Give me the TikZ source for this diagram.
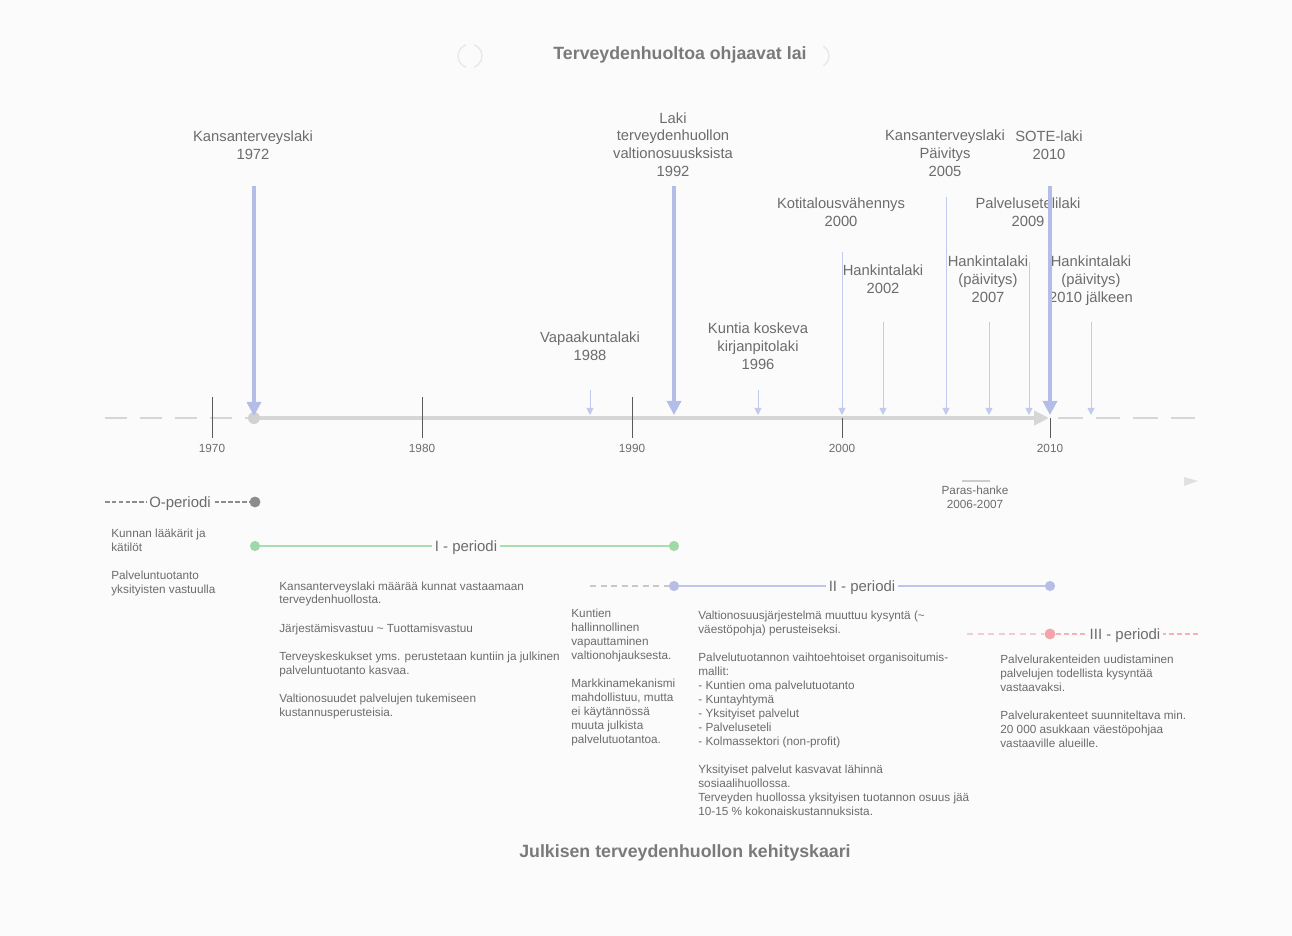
\documentclass[tikz,border=0pt]{standalone}
\usepackage{fontspec}
\setmainfont{Liberation Sans}
\usetikzlibrary{arrows.meta}
\definecolor{bg}{HTML}{FBFBFB}
\definecolor{txt}{HTML}{6C6C6C}
\definecolor{titlec}{HTML}{7A7A7A}
\definecolor{axisgray}{HTML}{D6D6D6}
\definecolor{tickc}{HTML}{5A5A5A}
\definecolor{blueA}{HTML}{B3BDE8}
\definecolor{blueT}{HTML}{C2CBEF}
\definecolor{greenl}{HTML}{A9DEB1}
\definecolor{greend}{HTML}{9FD9A8}
\definecolor{lavl}{HTML}{BFC5EA}
\definecolor{lavd}{HTML}{B6BDE6}
\definecolor{pinkd}{HTML}{F2A3AB}
\definecolor{pinkm}{HTML}{F3B3B9}
\definecolor{pinkl}{HTML}{F2CDD0}
\definecolor{ogray}{HTML}{8C8C8C}
\definecolor{dgray}{HTML}{C8C8C8}
\begin{document}
\begin{tikzpicture}[x=0.02cm,y=-0.02cm,
 lbl/.style={font=\fontsize{8.4}{10}\selectfont, text=txt, align=center, inner sep=0pt, anchor=base},
 sm/.style={font=\fontsize{6.7}{7.95}\selectfont, text=txt, align=left, inner sep=0pt, anchor=base west},
 smc/.style={font=\fontsize{6.7}{7.95}\selectfont, text=txt, align=center, inner sep=0pt, anchor=base},
 yr/.style={font=\fontsize{6.7}{8}\selectfont, text=txt, inner sep=0pt, anchor=base},
 per/.style={font=\fontsize{8.5}{10}\selectfont, text=txt, inner sep=1.5pt, fill=bg, anchor=base},
 hdr/.style={font=\bfseries\fontsize{10.1}{12}\selectfont, text=titlec, inner sep=0pt},
 bigarr/.style={draw=blueA, line width=1.8pt, -{Triangle[length=8pt,width=8pt]}},
 thinarr/.style={draw=blueT, line width=0.5pt, -{Triangle[length=4pt,width=4pt]}},
 tickline/.style={draw=tickc, line width=0.5pt},
 dotnode/.style={circle, inner sep=0pt, minimum size=6pt}
]
\path[use as bounding box, fill=bg] (0,0) rectangle (1292,936);

% titles
\node[hdr] (title) at (680,55) {Terveydenhuoltoa ohjaavat lai};
\node[hdr] (bottomtitle) at (685,853) {Julkisen terveydenhuollon kehityskaari};
\draw[black!9, line width=0.8pt] (470,56) ++(110:12) arc (110:250:12);
\draw[black!9, line width=0.8pt] (470,56) ++(-70:12) arc (-70:70:12);
\draw[black!9, line width=0.8pt] (818,56) ++(-60:11) arc (-60:60:11);

% axis
\coordinate (dl0) at (105,418);
\coordinate (dl1) at (248,418);
\coordinate (ax0) at (254,418);
\coordinate (ax1) at (1049,418);
\coordinate (dr0) at (1058,418);
\coordinate (dr1) at (1200,418);
\draw[axisgray, line width=1.7pt, dash pattern=on 12.5pt off 7.4pt] (dl0) -- (dl1);
\draw[axisgray, line width=1.7pt, dash pattern=on 14pt off 7.4pt] (dr0) -- (dr1);
\draw[axisgray, line width=2.8pt, -{Triangle[length=8.5pt,width=8pt]}] (ax0) -- (ax1);
\node[dotnode, fill=black!18, minimum size=6.8pt] (axdot) at (254,418) {};

% ticks
\foreach \yy/\xx in {1970/212,1980/422,1990/632}{
  \draw[tickline] (\xx,397) -- (\xx,438);
  \node[yr] (y\yy) at (\xx,452) {\yy};
}
\foreach \yy/\xx in {2000/842,2010/1050}{
  \draw[tickline] (\xx,418) -- (\xx,438);
  \node[yr] (y\yy) at (\xx,452) {\yy};
}

% law labels (anchor = baseline of last line)
\node[lbl] (l72) at (253,159) {Kansanterveyslaki\\1972};
\node[lbl] (l92) at (673,176) {Laki\\terveydenhuollon\\valtionosuusksista\\1992};
\node[lbl] (l88) at (590,360) {Vapaakuntalaki\\1988};
\node[lbl] (l96) at (758,369) {Kuntia koskeva\\kirjanpitolaki\\1996};
\node[lbl] (l00) at (841,226) {Kotitalousvähennys\\2000};
\node[lbl] (l02) at (883,293) {Hankintalaki\\2002};
\node[lbl] (l05) at (945,176) {Kansanterveyslaki\\Päivitys\\2005};
\node[lbl] (l10) at (1049,159) {SOTE-laki\\2010};
\node[lbl] (l09) at (1028,226) {Palvelusetelilaki\\2009};
\node[lbl] (l07) at (988,302) {Hankintalaki\\(päivitys)\\2007};
\node[lbl] (l12) at (1091,302) {Hankintalaki\\(päivitys)\\2010 jälkeen};

% arrows
\coordinate (t72) at (254,186); \coordinate (b72) at (254,416);
\coordinate (t92) at (674,186); \coordinate (b92) at (674,415);
\coordinate (t10) at (1050,186); \coordinate (b10) at (1050,415);
\coordinate (t88) at (590,390); \coordinate (b88) at (590,415);
\coordinate (t96) at (758,390); \coordinate (b96) at (758,415);
\coordinate (t00) at (842,252); \coordinate (b00) at (842,415);
\coordinate (t02) at (883,322); \coordinate (b02) at (883,415);
\coordinate (t05) at (946,197); \coordinate (b05) at (946,415);
\coordinate (t07) at (989,322); \coordinate (b07) at (989,415);
\coordinate (t09) at (1029,262); \coordinate (b09) at (1029,415);
\coordinate (t12) at (1091,322); \coordinate (b12) at (1091,415);
\foreach \k in {88,96,00,02,05,07,09,12}{\draw[thinarr] (t\k) -- (b\k);}
\foreach \k in {72,92,10}{\draw[bigarr] (t\k) -- (b\k);}

% Paras-hanke
\coordinate (ph0) at (962,481); \coordinate (ph1) at (990,481);
\draw[black!20, line width=1.7pt] (ph0) -- (ph1);
\node[smc] (paras) at (975,508) {Paras-hanke\\2006-2007};
\fill[black!12] (1184,477) -- (1198,481) -- (1184,486) -- cycle;

% O-periodi
\coordinate (o0) at (105,502);
\node[dotnode, fill=ogray, minimum size=6.2pt] (odot) at (255,502) {};
\draw[ogray, line width=1.4pt, dash pattern=on 2.6pt off 1.3pt] (o0) -- (odot);
\node[per] (olab) at (180,507) {O-periodi};

% I-periodi
\node[dotnode, fill=greend, minimum size=5.8pt] (g0) at (255,546) {};
\node[dotnode, fill=greend, minimum size=5.8pt] (g1) at (674,546) {};
\draw[greenl, line width=1.5pt] (g0) -- (g1);
\node[per] (ilab) at (466,551) {I - periodi};

% II-periodi
\coordinate (ii0) at (590,586);
\node[dotnode, fill=lavd, minimum size=5.8pt] (v0) at (674,586) {};
\node[dotnode, fill=lavd, minimum size=5.8pt] (v1) at (1050,586) {};
\draw[dgray, line width=0.6pt, dash pattern=on 3.5pt off 2.5pt] (ii0) -- (v0);
\draw[lavl, line width=1.5pt] (v0) -- (v1);
\node[per] (iilab) at (862,591) {II - periodi};

% III-periodi
\coordinate (p0) at (967,634);
\coordinate (p2) at (1200,634);
\node[dotnode, fill=pinkd, minimum size=6.2pt] (p1) at (1050,634) {};
\draw[pinkl, line width=0.6pt, dash pattern=on 3.5pt off 2.5pt] (p0) -- (p1);
\draw[pinkm, line width=1.4pt, dash pattern=on 3pt off 1.6pt] (p1) -- (p2);
\node[per] (iiilab) at (1125,639) {III - periodi};

% texts (anchor = baseline of last line)
\node[sm] (otext) at (111,593) {Kunnan lääkärit ja\\kätilöt\\[8pt]Palveluntuotanto\\yksityisten vastuulla};
\node[sm] (itext) at (279,716) {Kansanterveyslaki määrää kunnat vastaamaan\\terveydenhuollosta.\\[8pt]Järjestämisvastuu \textasciitilde{} Tuottamisvastuu\\[8pt]Terveyskeskukset yms. perustetaan kuntiin ja julkinen\\palveluntuotanto kasvaa.\\[8pt]Valtionosuudet palvelujen tukemiseen\\kustannusperusteisia.};
\node[sm] (iitextA) at (571,743) {Kuntien\\hallinnollinen\\vapauttaminen\\valtionohjauksesta.\\[8pt]Markkinamekanismi\\mahdollistuu, mutta\\ei käytännössä\\muuta julkista\\palvelutuotantoa.};
\node[sm] (iitextB) at (698,815) {Valtionosuusjärjestelmä muuttuu kysyntä (\textasciitilde\\väestöpohja) perusteiseksi.\\[8pt]Palvelutuotannon vaihtoehtoiset organisoitumis-\\mallit:\\- Kuntien oma palvelutuotanto\\- Kuntayhtymä\\- Yksityiset palvelut\\- Palveluseteli\\- Kolmassektori (non-profit)\\[8pt]Yksityiset palvelut kasvavat lähinnä\\sosiaalihuollossa.\\Terveyden huollossa yksityisen tuotannon osuus jää\\10-15 \% kokonaiskustannuksista.};
\node[sm] (iiitext) at (1000,747) {Palvelurakenteiden uudistaminen\\palvelujen todellista kysyntää\\vastaavaksi.\\[8pt]Palvelurakenteet suunniteltava min.\\20 000 asukkaan väestöpohjaa\\vastaaville alueille.};
\end{tikzpicture}
\end{document}
